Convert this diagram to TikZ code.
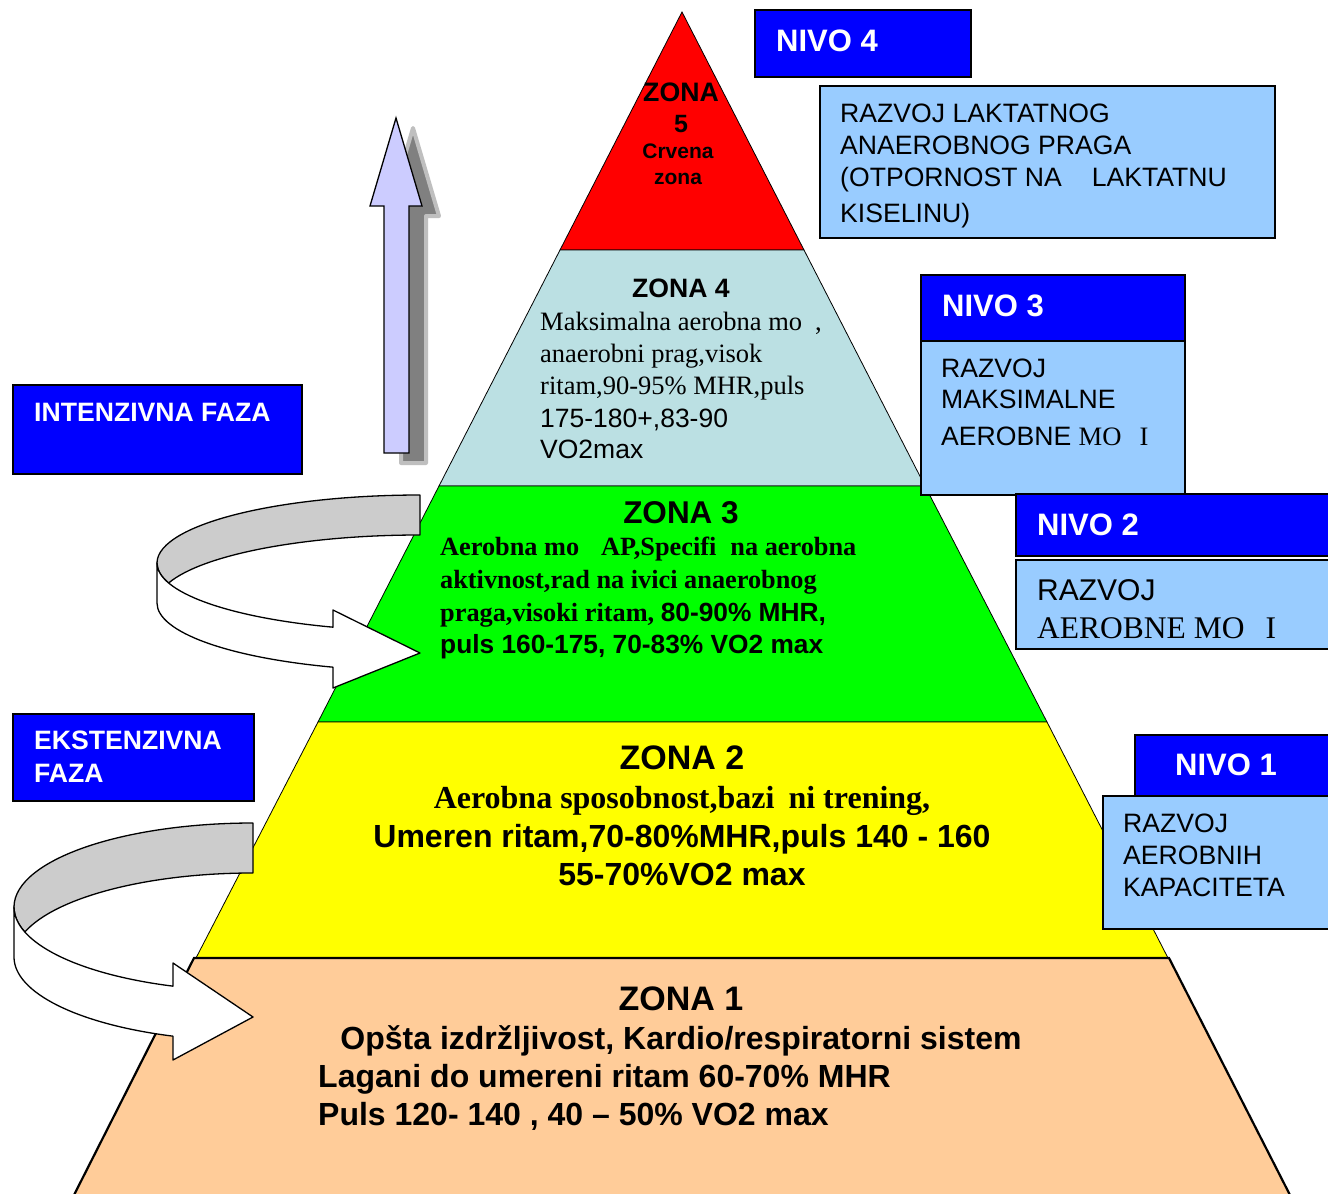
\documentclass[tikz,border=0pt]{standalone}
\usepackage{fontspec}
\setmainfont{Liberation Serif}
\setsansfont{Liberation Sans}
\newcommand\fsz[1]{\fontsize{#1}{#1}\selectfont}
\definecolor{zred}{RGB}{255,0,0}
\definecolor{zcyan}{RGB}{187,224,227}
\definecolor{zgreen}{RGB}{0,255,0}
\definecolor{zyellow}{RGB}{255,255,0}
\definecolor{zpeach}{RGB}{255,204,153}
\definecolor{nblue}{RGB}{0,0,255}
\definecolor{nlight}{RGB}{153,204,255}
\definecolor{arrlav}{RGB}{204,204,255}
\definecolor{bandgray}{RGB}{204,204,204}
\definecolor{shadowgray}{RGB}{128,128,128}
\begin{document}
\begin{tikzpicture}[x=1pt,y=-1pt,
  zoneband/.style={draw=black, line width=0.8pt},
  lbl/.style={inner sep=0pt, anchor=base west},
  clbl/.style={inner sep=0pt, anchor=base},
  darkbox/.style={fill=nblue, draw=black, line width=1.5pt},
  lightbox/.style={fill=nlight, draw=black, line width=1.5pt},
  wtitle/.style={lbl, text=white, font={\sffamily\bfseries\fsz{31}}},
  boxtxt/.style={lbl, font={\sffamily\fsz{26.6}}},
  ribbon/.style={draw=black, line width=1.3pt, line join=round},
]
\useasboundingbox (0,0) rectangle (1328,1194);
\fill[white] (0,0) rectangle (1328,1194);

% pyramid
\draw[zoneband, fill=zred] (682,12) -- (804,250) -- (560,250) -- cycle;
\draw[zoneband, fill=zcyan] (560,250) -- (804,250) -- (925,486) -- (439,486) -- cycle;
\draw[zoneband, fill=zgreen] (439,486) -- (925,486) -- (1047,722) -- (318,722) -- cycle;
\draw[zoneband, fill=zyellow] (318,722) -- (1047,722) -- (1168,958) -- (196,958) -- cycle;
\draw[fill=zpeach, line width=2.2pt] (194,958) -- (1169,958) -- (1291,1197) -- (73,1197) -- cycle;

% up arrow with shadow
\begin{scope}[shift={(17,10)}]
\filldraw[fill=shadowgray, draw=shadowgray!50, line width=4pt, line join=round]
  (396,118) -- (422,206) -- (409,206) -- (409,453) -- (384,453) -- (384,206) -- (370,206) -- cycle;
\end{scope}
\draw[fill=arrlav, line width=1.3pt, line join=miter]
  (396,118) -- (422,206) -- (409,206) -- (409,453) -- (384,453) -- (384,206) -- (370,206) -- cycle;

% curved arrow (upper)
\draw[ribbon, fill=bandgray] (420,495) arc[start angle=270, end angle=162.9, x radius=263, y radius=68]
  arc[start angle=197.1, end angle=270, x radius=263, y radius=68] -- cycle;
\draw[ribbon, fill=white] (157,563) -- (157,603)
  arc[start angle=180, end angle=109.32, x radius=263, y radius=68]
  -- (333,688) -- (420,653) -- (333,610) -- (333,627.17)
  arc[start angle=109.32, end angle=180, x radius=263, y radius=68] -- cycle;

% curved arrow (lower)
\draw[ribbon, fill=bandgray] (253,823) arc[start angle=270, end angle=162.69, x radius=239, y radius=84]
  arc[start angle=197.31, end angle=270, x radius=239, y radius=84] -- cycle;
\draw[ribbon, fill=white] (14,907) -- (14,957)
  arc[start angle=180, end angle=109.56, x radius=239, y radius=84]
  -- (173,1060) -- (253,1017) -- (173,963) -- (173,986.15)
  arc[start angle=109.56, end angle=180, x radius=239, y radius=84] -- cycle;

% zone 5
\node[clbl, font={\sffamily\bfseries\fsz{26.7}}] (z5a) at (681,101) {ZONA};
\node[clbl, font={\sffamily\bfseries\fsz{25}}] (z5b) at (681,132) {5};
\node[clbl, font={\sffamily\bfseries\fsz{21}}] (z5c) at (678,158) {Crvena};
\node[clbl, font={\sffamily\bfseries\fsz{21}}] (z5d) at (678,184) {zona};

% zone 4
\node[clbl, font={\sffamily\bfseries\fsz{26.6}}] (z4t) at (681,297) {ZONA 4};
\node[lbl, font={\rmfamily\fsz{26.5}}] (z4a) at (540,330) {Maksimalna aerobna mo\hspace{13pt},};
\node[lbl, font={\rmfamily\fsz{26.5}}] (z4b) at (540,362) {anaerobni prag,visok};
\node[lbl, font={\rmfamily\fsz{26.5}}] (z4c) at (540,394) {ritam,90-95\% MHR,puls};
\node[lbl, font={\sffamily\fsz{26.5}}] (z4d) at (540,427) {175-180+,83-90};
\node[lbl, font={\sffamily\fsz{26.5}}] (z4e) at (540,458) {VO2max};

% zone 3
\node[clbl, font={\sffamily\bfseries\fsz{31.5}}] (z3t) at (681,523) {ZONA 3};
\node[lbl, font={\rmfamily\bfseries\fsz{26.3}}] (z3a) at (440,555) {Aerobna mo\hspace{22pt}AP,Specifi\hspace{14pt}na aerobna};
\node[lbl, font={\rmfamily\bfseries\fsz{26.3}}] (z3b) at (440,588) {aktivnost,rad na ivici anaerobnog};
\node[lbl, font={\rmfamily\bfseries\fsz{26.3}}] (z3c) at (440,621) {praga,visoki ritam, {\sffamily 80-90\% MHR,}};
\node[lbl, font={\sffamily\bfseries\fsz{26.3}}] (z3d) at (440,653) {puls 160-175, 70-83\% VO2 max};

% zone 2
\node[clbl, font={\sffamily\bfseries\fsz{34}}] (z2t) at (682,769) {ZONA 2};
\node[clbl, font={\rmfamily\bfseries\fsz{32}}] (z2a) at (682,808) {Aerobna sposobnost,bazi\hspace{14pt}ni trening,};
\node[clbl, font={\sffamily\bfseries\fsz{32}}] (z2b) at (682,847) {Umeren ritam,70-80\%MHR,puls 140 - 160};
\node[clbl, font={\sffamily\bfseries\fsz{32}}] (z2c) at (682,885) {55-70\%VO2 max};

% zone 1
\node[clbl, font={\sffamily\bfseries\fsz{34}}] (z1t) at (681,1010) {ZONA 1};
\node[clbl, font={\sffamily\bfseries\fsz{32}}] (z1a) at (681,1049) {Opšta izdržljivost, Kardio/respiratorni sistem};
\node[lbl, font={\sffamily\bfseries\fsz{32}}] (z1b) at (318,1087) {Lagani do umereni ritam 60-70\% MHR};
\node[lbl, font={\sffamily\bfseries\fsz{32}}] (z1c) at (318,1125) {Puls 120- 140 , 40 – 50\% VO2 max};

% NIVO 4
\draw[darkbox] (755,10) rectangle (971,77);
\node[wtitle] (n4) at (776,51) {NIVO 4};
\draw[lightbox] (820,86) rectangle (1275,238);
\node[boxtxt] (n4a) at (840,122) {RAZVOJ LAKTATNOG};
\node[boxtxt] (n4b) at (840,154) {ANAEROBNOG PRAGA};
\node[boxtxt] (n4c) at (840,186) {(OTPORNOST NA\hspace{30pt}LAKTATNU};
\node[boxtxt] (n4d) at (840,222) {KISELINU)};

% NIVO 3
\draw[darkbox] (921,275) rectangle (1185,341);
\node[wtitle] (n3) at (942,316) {NIVO 3};
\draw[lightbox] (921,341) rectangle (1185,495);
\node[boxtxt] (n3a) at (941,377) {RAZVOJ};
\node[boxtxt] (n3b) at (941,408) {MAKSIMALNE};
\node[boxtxt] (n3c) at (941,445) {AEROBNE {\rmfamily MO\hspace{18pt}I}};

% NIVO 2
\draw[darkbox] (1016,494) rectangle (1330,556);
\node[wtitle] (n2) at (1037,535) {NIVO 2};
\draw[lightbox] (1016,560) rectangle (1330,649);
\node[lbl, font={\sffamily\fsz{30}}] (n2a) at (1037,600) {RAZVOJ};
\node[lbl, font={\rmfamily\fsz{31.5}}] (n2b) at (1037,638) {AEROBNE MO\hspace{21pt}I};

% NIVO 1
\draw[darkbox] (1135,735) rectangle (1330,796);
\node[wtitle] (n1) at (1175,775) {NIVO 1};
\draw[lightbox] (1103,796) rectangle (1330,929);
\node[boxtxt] (n1a) at (1123,832) {RAZVOJ};
\node[boxtxt] (n1b) at (1123,864) {AEROBNIH};
\node[boxtxt] (n1c) at (1123,896) {KAPACITETA};

% phase boxes
\draw[darkbox] (13,385) rectangle (302,474);
\node[lbl, text=white, font={\sffamily\bfseries\fsz{26.6}}] (fi) at (34,421) {INTENZIVNA FAZA};
\draw[darkbox] (13,714) rectangle (254,801);
\node[lbl, text=white, font={\sffamily\bfseries\fsz{26.6}}] (fe1) at (34,749) {EKSTENZIVNA};
\node[lbl, text=white, font={\sffamily\bfseries\fsz{26.6}}] (fe2) at (34,782) {FAZA};
\end{tikzpicture}
\end{document}
